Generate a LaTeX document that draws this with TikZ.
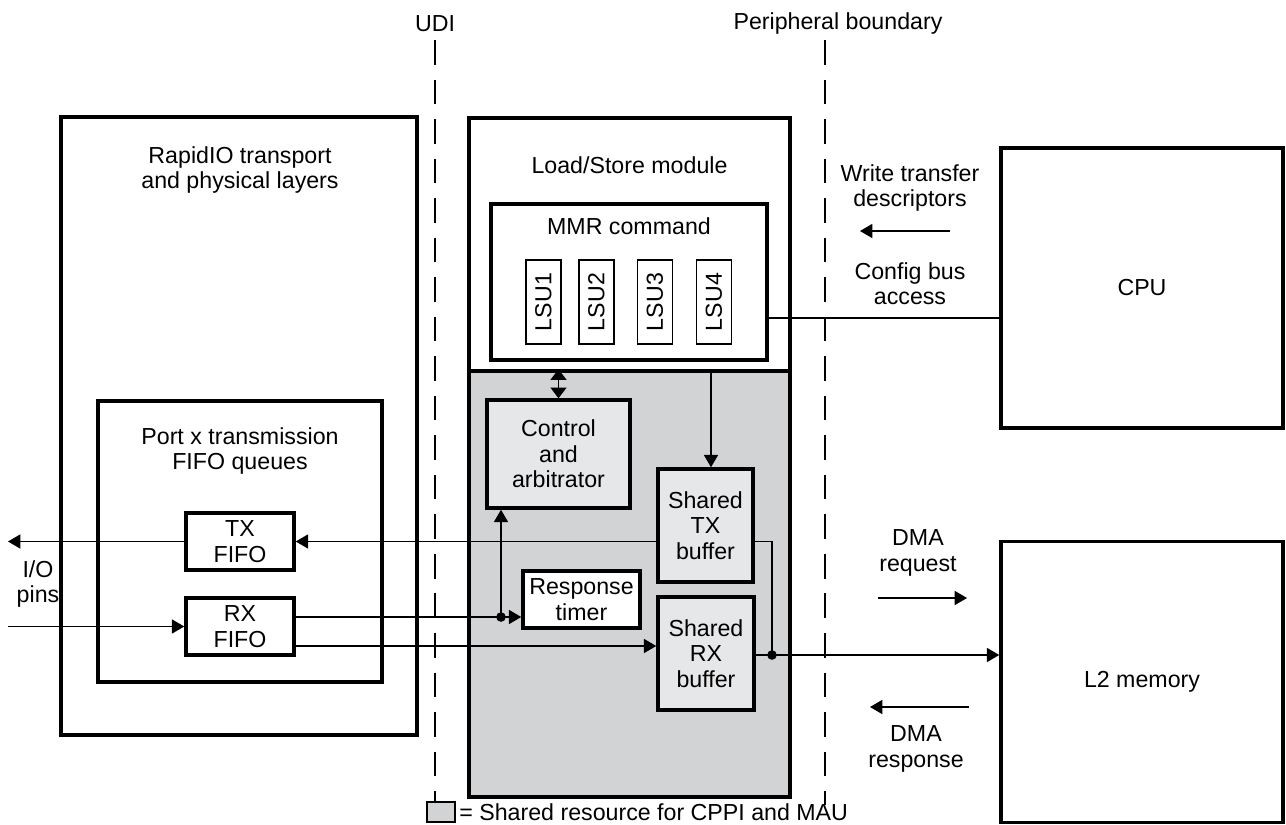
\documentclass[tikz,border=0pt]{standalone}
\usepackage{fontspec}
\setmainfont{Liberation Sans}
\usetikzlibrary{arrows.meta,calc}
\definecolor{sharedgray}{HTML}{D1D3D4}
\definecolor{lightgray}{HTML}{E6E7E8}
\newcommand{\pu}{0.02cm}

\begin{document}
\begin{tikzpicture}[x=\pu, y=-\pu,
    font=\fontsize{13.2pt}{14.4pt}\selectfont,
    sz/.style 2 args={minimum width=#1*\pu, minimum height=#2*\pu},
    blk/.style={draw, line width=2pt, inner sep=0pt, align=center},
    lsubox/.style={draw, line width=0.6pt, rotate=90, inner sep=0pt, sz={84}{35}},
    txt/.style={align=center, inner sep=0pt},
    conn/.style={line width=0.65pt},
    tip/.style={-{Triangle[length=7pt,width=8pt]}},
    bnd/.style={line width=0.6pt, dash pattern=on 14pt off 8.5pt},
    dot/.style={circle, fill, inner sep=0pt, minimum size=5.5pt}]

    \useasboundingbox (0,0) rectangle (1286,825);

    % boundaries
    \node[txt] (udi) at (435,24) {UDI};
    \node[txt] (pbound) at (838,24) {Peripheral boundary};
    \draw[bnd] (435,40) -- (435,805);
    \draw[bnd] (825,40) -- (825,805);

    % RapidIO side
    \node[blk, sz={356}{618}] (rio) at (239,426) {};
    \node[txt] (riot) at (240,170) {RapidIO transport\\and physical layers};
    \node[blk, sz={284}{281}] (port) at (240,541.5) {};
    \node[txt] (portt) at (240,451) {Port x transmission\\FIFO queues};
    \node[blk, sz={108}{57}] (txf) at (240,541.5) {TX\\FIFO};
    \node[blk, sz={108}{57}] (rxf) at (240,626.5) {RX\\FIFO};
    \node[txt] (io) at (38,584) {I/O\\pins};

    % Load/Store module
    \node[blk, sz={321}{679}] (lsm) at (629.5,457.5) {};
    \node[draw, line width=2pt, fill=sharedgray, sz={321}{426}] (shr) at (629.5,584) {};
    \node[txt] (lsmt) at (629.5,165) {Load/Store module};
    \node[blk, sz={276}{156}] (mmr) at (629,282) {};
    \node[txt] (mmrt) at (629,226) {MMR command};
    \foreach \n/\x in {1/543.5, 2/596.5, 3/655, 4/714}
        \node[lsubox] (lsu\n) at (\x,302) {LSU\n};

    \node[blk, fill=lightgray, sz={143}{108}] (ctrl) at (558.5,454) {Control\\and\\arbitrator};
    \node[blk, fill=lightgray, sz={95}{113}] (stx) at (705.5,525.5) {Shared\\TX\\buffer};
    \node[blk, fill=lightgray, sz={96}{113}] (srx) at (706,653.5) {Shared\\RX\\buffer};
    \node[blk, fill=white, sz={117}{57}] (rt) at (581.5,599.5) {Response\\timer};

    % CPU side
    \node[blk, sz={282}{280}] (cpu) at (1142,288) {CPU};
    \node[blk, sz={282}{281}] (l2) at (1142,682) {L2 memory};

    \node[txt] (wrt) at (910,188) {Write transfer\\descriptors};
    \node[txt] (cfgt) at (910,284) {Config bus\\access};
    \node[txt] (dreq) at (918,553) {DMA\\request};
    \node[txt] (dresp) at (916,749) {DMA\\response};

    % connectors
    \coordinate (ioout) at (8,541.5);
    \coordinate (ioin) at (8,626.5);
    \coordinate (rxa) at ($(rxf.east)+(0,-9.5)$);
    \coordinate (rxb) at ($(rxf.east)+(0,19.5)$);
    \coordinate (tap) at (501,617);
    \coordinate (jn) at (772,655);
    \coordinate (stxin) at ($(stx.north)+(5.5,0)$);
    \coordinate (cfg) at ($(mmr.east)+(0,36)$);

    \draw[conn, tip] (txf.west) -- (ioout);
    \draw[conn, tip] (ioin) -- (rxf.west);
    \draw[conn, tip] (stx.west |- txf.east) -- (txf.east);
    \draw[conn] (stx.east |- txf.east) -| (jn);
    \draw[conn, tip] (srx.east |- jn) -- (l2.west |- jn);
    \node[dot] (jnd) at (jn) {};
    \draw[conn, tip] (rxa) -- (rt.west |- rxa);
    \draw[conn, tip] (tap) -- (tap |- ctrl.south);
    \node[dot] (tapd) at (tap) {};
    \draw[conn, tip] (rxb) -- (srx.west |- rxb);
    \draw[conn, {Triangle[length=6pt,width=9pt]}-{Triangle[length=6pt,width=9pt]}] (ctrl.north |- shr.north) -- (ctrl.north);
    \draw[conn, tip] (stxin |- shr.north) -- (stxin);
    \draw[conn] (cfg) -- (cpu.west |- cfg);

    % free arrows
    \coordinate (wr1) at (950,231);
    \coordinate (wr2) at (860,231);
    \coordinate (rq1) at (878,598);
    \coordinate (rq2) at (967,598);
    \coordinate (rs1) at (969,707);
    \coordinate (rs2) at (870,707);
    \draw[conn, tip] (wr1) -- (wr2);
    \draw[conn, tip] (rq1) -- (rq2);
    \draw[conn, tip] (rs1) -- (rs2);

    % legend
    \node[draw, line width=0.6pt, fill=sharedgray, sz={28}{20}] (leg) at (441,812) {};
    \node[txt, anchor=west] (legt) at (459,812) {= Shared resource for CPPI and MAU};
\end{tikzpicture}
\end{document}
